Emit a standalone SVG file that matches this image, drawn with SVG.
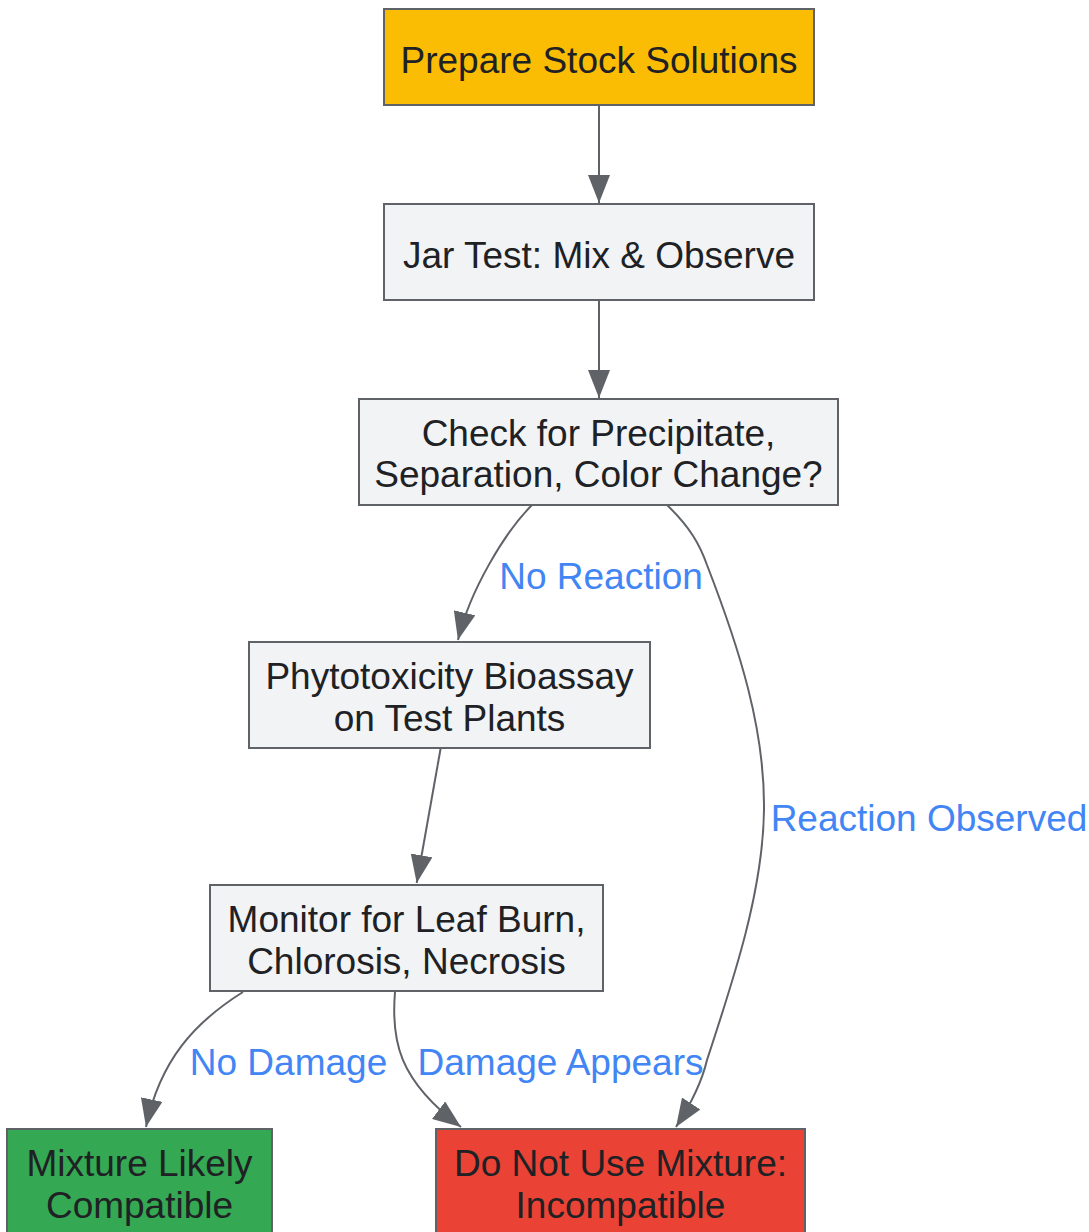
<svg xmlns="http://www.w3.org/2000/svg" width="1089" height="1232" viewBox="0 0 1089 1232">
<style>
.node rect{stroke:#5f6368;stroke-width:2}
.node text{font-family:"Liberation Sans",Arial,sans-serif;font-size:37px;fill:#202124;text-anchor:middle}
.edge{fill:none;stroke:#5f6368;stroke-width:2}
.lbl{font-family:"Liberation Sans",Arial,sans-serif;font-size:37px;fill:#4285f4;text-anchor:middle}
</style>
<defs>
<marker id="arr" markerUnits="userSpaceOnUse" markerWidth="28" markerHeight="22" refX="28" refY="11" orient="auto">
<path d="M0,0 L28,11 L0,22 z" fill="#5f6368"/>
</marker>
</defs>
<rect width="1089" height="1232" fill="#ffffff"/>
<g id="connectors">
<path class="edge" marker-end="url(#arr)" d="M599,105 L599,203"/>
<path class="edge" marker-end="url(#arr)" d="M599,300 L599,398"/>
<path class="edge" marker-end="url(#arr)" d="M532,505 C505,532 470,590 458,640"/>
<path class="edge" marker-end="url(#arr)" d="M440.7,748 L416.7,883"/>
<path class="edge" marker-end="url(#arr)" d="M667,505 C690,527 700,545 707,565 C740,650 765,730 764,810 C763,890 735,975 707,1060 Q700,1090 676,1127"/>
<path class="edge" marker-end="url(#arr)" d="M243,992 C195,1022 160,1060 146,1127"/>
<path class="edge" marker-end="url(#arr)" d="M395,992 C391,1040 398,1080 461,1127"/>
<text class="lbl" x="601" y="589">No Reaction</text>
<text class="lbl" x="929" y="831">Reaction Observed</text>
<text class="lbl" x="288.5" y="1075">No Damage</text>
<text class="lbl" x="560.5" y="1075">Damage Appears</text>
</g>
<g id="prepare" class="node">
<rect x="384" y="9" width="430" height="96" fill="#fbbc04"/>
<text x="599" y="72.5">Prepare Stock Solutions</text>
</g>
<g id="jar" class="node">
<rect x="384" y="204" width="430" height="96" fill="#f1f3f4"/>
<text x="599" y="267.5">Jar Test: Mix &amp; Observe</text>
</g>
<g id="check" class="node">
<rect x="359" y="399" width="479" height="106" fill="#f1f3f4"/>
<text x="598.5" y="445.5">Check for Precipitate,</text>
<text x="598.5" y="487">Separation, Color Change?</text>
</g>
<g id="bioassay" class="node">
<rect x="249" y="642" width="401" height="106" fill="#f1f3f4"/>
<text x="449.5" y="689">Phytotoxicity Bioassay</text>
<text x="449.5" y="731">on Test Plants</text>
</g>
<g id="monitor" class="node">
<rect x="210" y="885" width="393" height="106" fill="#f1f3f4"/>
<text x="406.5" y="932">Monitor for Leaf Burn,</text>
<text x="406.5" y="974">Chlorosis, Necrosis</text>
</g>
<g id="compatible" class="node">
<rect x="7" y="1129" width="265" height="106" fill="#34a853"/>
<text x="139.5" y="1176">Mixture Likely</text>
<text x="139.5" y="1218">Compatible</text>
</g>
<g id="incompatible" class="node">
<rect x="436" y="1129" width="369" height="106" fill="#ea4335"/>
<text x="620.5" y="1176">Do Not Use Mixture:</text>
<text x="620.5" y="1218">Incompatible</text>
</g>
</svg>
